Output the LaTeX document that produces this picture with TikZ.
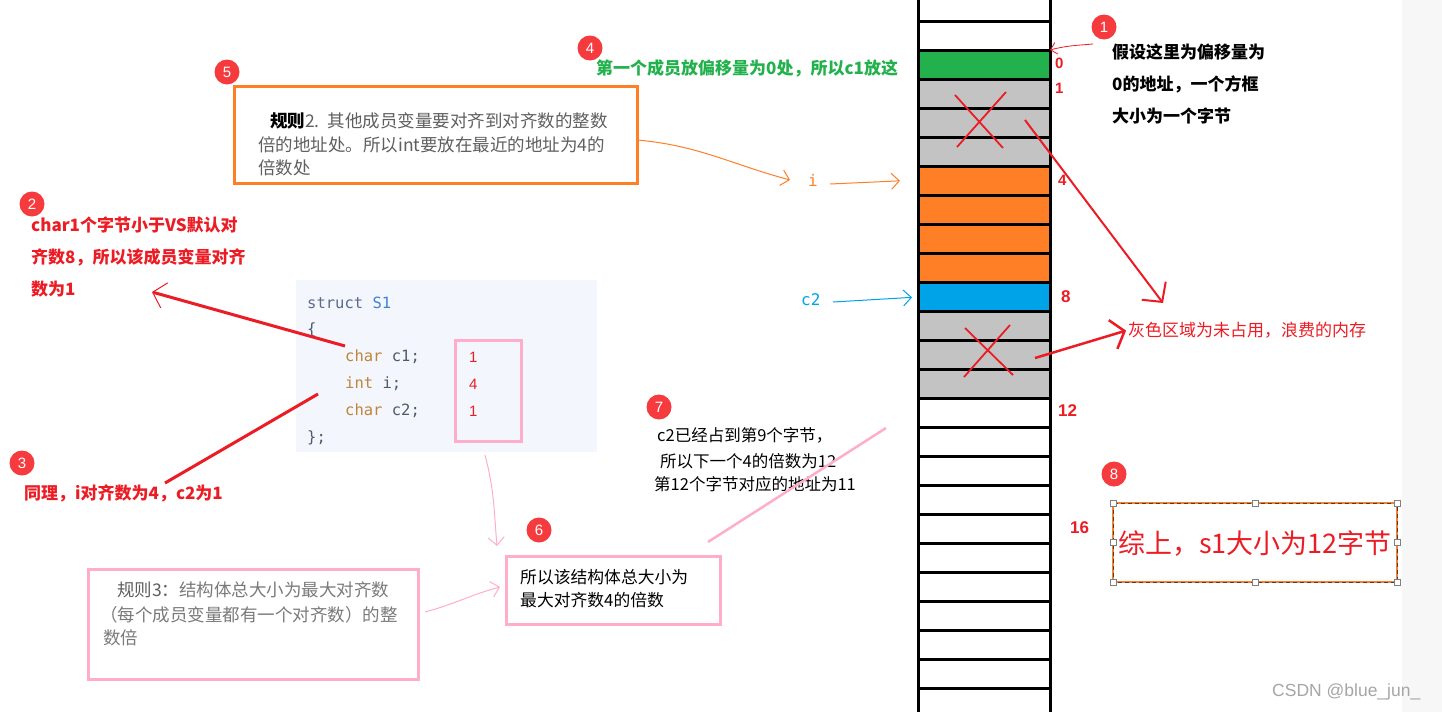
\documentclass[tikz,border=0pt]{standalone}
\usepackage{fontspec}
\setmainfont{Liberation Sans}
\newfontfamily\cjk{Noto Sans CJK SC}
\newfontfamily\codefont{DejaVu Sans Mono}
\usetikzlibrary{arrows.meta}
\definecolor{pgreen}{HTML}{22B14C}
\definecolor{porange}{HTML}{FF7F27}
\definecolor{pblue}{HTML}{00A2E8}
\definecolor{pgray}{HTML}{C3C3C3}
\definecolor{tred}{HTML}{EC1C24}
\definecolor{ppink}{HTML}{FFAEC9}
\definecolor{badgered}{HTML}{F53B3D}
\definecolor{graytxt}{HTML}{5F5F5F}
\definecolor{graytxtb}{HTML}{7A7A7A}
\definecolor{codebg}{HTML}{F3F7FD}
\definecolor{kwgray}{HTML}{5B6B8C}
\definecolor{kwblue}{HTML}{3B82D6}
\definecolor{kwbrown}{HTML}{C0853B}
\definecolor{codetxt}{HTML}{4F5A6A}
\definecolor{stripbg}{HTML}{F7F7F7}
\newcommand\fsz[1]{\fontsize{#1}{#1}\selectfont}
\begin{document}
\begin{tikzpicture}[x=1pt,y=-1pt,
  badge/.style={circle,fill=badgered,text=white,minimum size=25pt,inner sep=0pt,font=\fsz{15}},
  t/.style={anchor=west,inner sep=0pt},
  redbold/.style={t,text=tred,font=\cjk\bfseries\fsz{17}},
  blackbold/.style={t,text=black,font=\cjk\bfseries\fsz{17}},
  greenbold/.style={t,text=pgreen,font=\cjk\bfseries\fsz{17}},
  numlab/.style={t,text=tred,font=\bfseries\fsz{15}},
  numlabbig/.style={t,text=tred,font=\bfseries\fsz{17}},
  ruletwo/.style={t,text=graytxt,font=\cjk\fsz{17.5}},
  rulethree/.style={t,text=graytxtb,font=\cjk\fsz{17.5}},
  plain/.style={t,text=black,font=\cjk\fsz{16.8}},
  code/.style={t,text=codetxt,font=\codefont\fsz{15.5}},
  boxnode/.style={anchor=north west,inner sep=0pt,outer sep=0pt},
  hand/.style={-{Straight Barb[length=8pt,width=16pt,line width=1pt]},line width=1pt},
  handle/.style={draw=gray,fill=white,line width=0.6pt,minimum size=6pt,inner sep=0pt}
]
\useasboundingbox (0,0) rectangle (1442,712);
\fill[white] (0,0) rectangle (1442,712);
\fill[stripbg] (1402,0) rectangle (1442,712);

% ---------- memory column ----------
\fill[pgreen] (918,50) rectangle (1050,79);
\fill[pgray] (918,79) rectangle (1050,166);
\fill[porange] (918,166) rectangle (1050,283);
\fill[pblue] (918,283) rectangle (1050,312);
\fill[pgray] (918,312) rectangle (1050,398);
\foreach \k in {0,...,23} \draw[line width=3pt] (918,21+29*\k) -- (1050,21+29*\k);
\draw[line width=3pt] (918,0) -- (918,712) (1050,0) -- (1050,712);
\coordinate (cell0) at (1050,50);
\coordinate (cell4) at (918,180);
\coordinate (cell8) at (918,297);

% crosses on unused bytes
\draw[tred,line width=1.8pt] (955,95) -- (1003,148) (1006,92) -- (957,147);
\draw[tred,line width=1.8pt] (965,328) -- (1013,375) (1010,325) -- (964,377);
\coordinate (xtop) at (1025,120);
\coordinate (xbot) at (1035,358);

% offsets
\node[numlab] (l0) at (1055,63) {0};
\node[numlab] (l1) at (1055,88) {1};
\node[numlab] (l4) at (1058,180) {4};
\node[numlabbig] (l8) at (1061,297) {8};
\node[numlabbig] (l12) at (1058,411) {12};
\node[numlabbig] (l16) at (1070,528) {16};

% ---------- badge 1 ----------
\node[badge] (b1) at (1104,27) {1};
\node[blackbold] (t1a) at (1112,52) {假设这里为偏移量为};
\node[blackbold] (t1b) at (1112,84) {0的地址，一个方框};
\node[blackbold] (t1c) at (1112,116) {大小为一个字节};
\coordinate (a1s) at (1093,44);
\draw[tred,-{Straight Barb[length=6pt,width=12pt,line width=0.8pt]},line width=0.8pt] (a1s) to[out=185,in=15] (cell0);

% ---------- badge 4 ----------
\node[badge] (b4) at (590,48) {4};
\node[greenbold] (t4) at (596,68) {第一个成员放偏移量为0处，所以c1放这};

% ---------- badge 5 : rule 2 ----------
\node[badge] (b5) at (227,72) {5};
\node[boxnode,draw=porange,line width=3pt,minimum width=403pt,minimum height=97pt] (r2box) at (234,86) {};
\node[ruletwo] (r2a) at (270,121) {{\color{black}\bfseries 规则}2.\ \ 其他成员变量要对齐到对齐数的整数};
\node[ruletwo] (r2b) at (258,145) {倍的地址处。所以int要放在最近的地址为4的};
\node[ruletwo] (r2c) at (258,168) {倍数处};
\coordinate (r2s) at (637,140);
\coordinate (r2e) at (790,180);
\draw[porange,hand] (r2s) to[out=-5,in=165] (r2e);

\node[t,text=porange,font=\codefont\fsz{16}] (ilab) at (808,180) {i};
\draw[porange,hand,shorten >=18pt] (830,184) -- (cell4);
\node[t,text=pblue,font=\codefont\fsz{16}] (c2lab) at (801,300) {c2};
\draw[pblue,hand,shorten >=6pt] (833,302) -- (cell8);

% ---------- badge 2 ----------
\node[badge] (b2) at (32,204) {2};
\node[redbold] (t2a) at (31,225) {char1个字节小于VS默认对};
\node[redbold] (t2b) at (31,257) {齐数8，所以该成员变量对齐};
\node[redbold] (t2c) at (31,289) {数为1};

% ---------- code ----------
\fill[codebg] (296,280) rectangle (597,452);
\node[code] (cl1) at (307,303) {{\color{kwgray}struct} {\color{kwblue}S1}};
\node[code] (cl2) at (307,330) {\{};
\node[code] (cl3) at (345,357) {{\color{kwbrown}char} c1;};
\node[code] (cl4) at (345,384) {{\color{kwbrown}int} i;};
\node[code] (cl5) at (345,411) {{\color{kwbrown}char} c2;};
\node[code] (cl6) at (307,438) {\};};
\node[boxnode,draw=ppink,line width=3pt,minimum width=66pt,minimum height=101pt] (abox) at (455,340) {};
\node[t,text=tred,font=\fsz{15}] (h1) at (469,357) {1};
\node[t,text=tred,font=\fsz{15}] (h4) at (469,384) {4};
\node[t,text=tred,font=\fsz{15}] (h3) at (469,411) {1};

\coordinate (a2s) at (345,346);
\coordinate (a2e) at (152,292);
\draw[tred,line width=3pt,-{Straight Barb[length=12pt,width=26pt,line width=1pt]}] (a2s) -- (a2e);

% ---------- badge 3 ----------
\node[badge] (b3) at (22,463) {3};
\node[redbold] (t3) at (24,493) {同理，i对齐数为4，c2为1};
\coordinate (a3s) at (318,394);
\coordinate (a3e) at (165,483);
\draw[tred,line width=3pt] (a3s) -- (a3e);

% ---------- badge 6 ----------
\node[badge] (b6) at (539,530) {6};
\node[boxnode,draw=ppink,line width=3pt,minimum width=214pt,minimum height=68pt] (box6) at (506,556) {};
\node[plain] (t6a) at (520,577) {所以该结构体总大小为};
\node[plain] (t6b) at (520,600) {最大对齐数4的倍数};
\coordinate (a6s) at (485,455);
\coordinate (a6e) at (497,546);
\draw[ppink,hand] (a6s) to[out=-75,in=95] (a6e);

% ---------- rule 3 ----------
\node[boxnode,draw=ppink,line width=3pt,minimum width=330pt,minimum height=110pt] (r3box) at (88,569) {};
\node[rulethree] (r3a) at (117,590) {{\color{graytxt}规则3：}结构体总大小为最大对齐数};
\node[rulethree] (r3b) at (100,615) {（每个成员变量都有一个对齐数）的整};
\node[rulethree] (r3c) at (103,638) {数倍};
\coordinate (a7s) at (425,612);
\coordinate (a7e) at (500,587);
\draw[ppink,hand] (a7s) to[out=15,in=195] (a7e);

% ---------- badge 7 ----------
\node[badge] (b7) at (659,407) {7};
\node[plain,font=\cjk\fsz{16.5}] (t7a) at (657,435) {c2已经占到第9个字节，};
\node[plain,font=\cjk\fsz{16.5}] (t7b) at (660,461) {所以下一个4的倍数为12};
\node[plain,font=\cjk\fsz{16.5}] (t7c) at (654,484) {第12个字节对应的地址为11};
\coordinate (p7s) at (886,428);
\coordinate (p7e) at (708,542);
\draw[ppink,line width=2.5pt] (p7s) -- (p7e);

% ---------- waste arrows ----------
\node[t,text=tred,font=\cjk\fsz{17}] (waste) at (1128,330) {灰色区域为未占用，浪费的内存};
\coordinate (wtop) at (1163,303);
\draw[tred,line width=2pt,-{Straight Barb[length=14pt,width=30pt,line width=2pt]}] (xtop) -- (wtop);
\draw[tred,line width=2.5pt,-{Straight Barb[length=12pt,width=30pt,line width=2.5pt]},shorten >=2pt] (xbot) -- (waste.west);

% ---------- badge 8 ----------
\node[badge] (b8) at (1114,474) {8};
\node[boxnode,draw=porange,line width=1.5pt,minimum width=284pt,minimum height=79pt] (box8) at (1113,503) {};
\draw[darkgray,line width=0.8pt,dash pattern=on 4pt off 3pt] (box8.north west) rectangle (box8.south east);
\foreach \p in {north west,north,north east,west,east,south west,south,south east}
  \node[handle] at (box8.\p) {};
\node[text=tred,font=\cjk\fsz{27},inner sep=0pt] (t8) at (1255,544) {综上，s1大小为12字节};

% watermark
\node[t,text=gray!70,font=\fsz{17.5}] (wm) at (1272,692) {CSDN @blue\_jun\_};
\end{tikzpicture}
\end{document}
